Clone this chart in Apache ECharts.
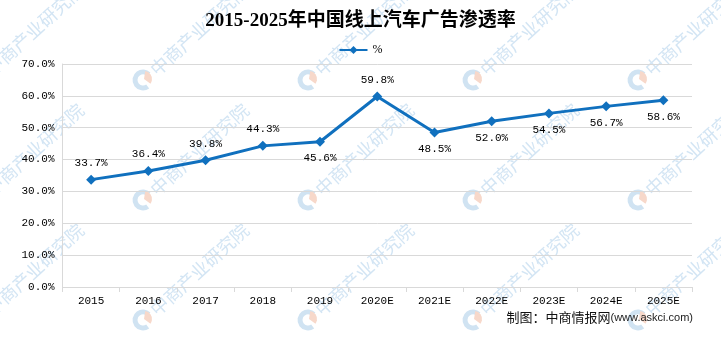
<!DOCTYPE html>
<html>
<head>
<meta charset="utf-8">
<script src="https://cdn.jsdelivr.net/npm/echarts@6/dist/echarts.min.js"></script>
<style>
html,body{margin:0;padding:0;background:#fff;}
#chart{width:721px;height:337px;}
</style>
</head>
<body>
<div id="chart"></div>
<script>
// Online car advertising penetration, 2015-2025 (E = estimate)
var years = ['2015','2016','2017','2018','2019','2020E','2021E','2022E','2023E','2024E','2025E'];
var rates = [33.7, 36.4, 39.8, 44.3, 45.6, 59.8, 48.5, 52.0, 54.5, 56.7, 58.6];
// which data labels sit above the point (others sit below)
var labelAbove = [true, true, true, true, false, true, false, false, false, false, false];
var seriesName = '%';

var chart = echarts.init(document.getElementById('chart'));

// faint repeated watermark: logo ring + rotated institute name
var wmX = [-22, 143, 308, 473, 638];
var wmY = [-40, 80, 200, 320];
var watermark = [];
wmX.forEach(function (x) {
  wmY.forEach(function (y) {
    watermark.push({
      type: 'arc', x: x, y: y, z: 0, silent: true,
      shape: { cx: 0, cy: 0, r: 8, startAngle: Math.PI * 0.3, endAngle: Math.PI * 1.75, clockwise: true },
      style: { stroke: '#d0e3f2', lineWidth: 5, fill: null }
    });
    watermark.push({
      type: 'sector', x: x, y: y, z: 0, silent: true,
      shape: { cx: 1, cy: -1, r0: 0, r: 8, startAngle: -Math.PI * 0.45, endAngle: Math.PI * 0.2 },
      style: { fill: '#f7d8ca' }
    });
    watermark.push({
      type: 'text', x: x + 10, y: y - 8, z: 0, silent: true,
      rotation: 0.74,
      style: {
        text: '中商产业研究院', fill: '#d3e5f4',
        font: '18px "Noto Sans CJK SC"',
        align: 'left', verticalAlign: 'middle'
      }
    });
  });
});

watermark.push({
  type: 'text', right: 28, top: 311, z: 10, silent: true,
  style: {
    text: '{a|制图：中商情报网}{b|(www.askci.com)}',
    rich: {
      a: { font: '13px "Noto Sans CJK SC"', fill: '#111' },
      b: { font: '11px "Liberation Sans"', fill: '#222' }
    }
  }
});

chart.setOption({
  animation: false,
  backgroundColor: '#fff',
  title: {
    text: '2015-2025年中国线上汽车广告渗透率',
    left: 'center', top: 7,
    textStyle: { fontFamily: '"Liberation Serif","Noto Sans CJK SC"', fontWeight: 'bold', fontSize: 19, color: '#000' }
  },
  legend: {
    top: 39, left: 'center',
    itemWidth: 28, itemHeight: 10, itemGap: 6,
    textStyle: { fontFamily: '"Liberation Serif"', fontSize: 12, color: '#000' },
    data: [seriesName]
  },
  graphic: watermark,
  grid: { left: 62.5, right: 29, top: 64, bottom: 50 },
  xAxis: {
    type: 'category', data: years, boundaryGap: true,
    axisLine: { lineStyle: { color: '#d9d9d9' } },
    axisTick: { show: true, length: 5, lineStyle: { color: '#d9d9d9' } },
    axisLabel: { color: '#000', fontFamily: '"Liberation Mono"', fontSize: 11, margin: 9 }
  },
  yAxis: {
    type: 'value', min: 0, max: 70, interval: 10,
    axisLine: { show: true, lineStyle: { color: '#d9d9d9' } },
    axisTick: { show: false },
    splitLine: { lineStyle: { color: '#d9d9d9' } },
    axisLabel: {
      color: '#000', fontFamily: '"Liberation Mono"', fontSize: 11, margin: 8,
      formatter: function (v) { return v.toFixed(1) + '%'; }
    }
  },
  series: [{
    name: seriesName, type: 'line', z: 5,
    data: rates.map(function (v, i) {
      return { value: v, label: { position: labelAbove[i] ? 'top' : 'bottom' } };
    }),
    symbol: 'diamond', symbolSize: 10,
    lineStyle: { color: '#1070be', width: 3 },
    itemStyle: { color: '#1070be' },
    label: {
      show: true, color: '#000', fontFamily: '"Liberation Mono"', fontSize: 11, distance: 6,
      formatter: function (p) { return p.value.toFixed(1) + '%'; }
    }
  }]
});
</script>
</body>
</html>
